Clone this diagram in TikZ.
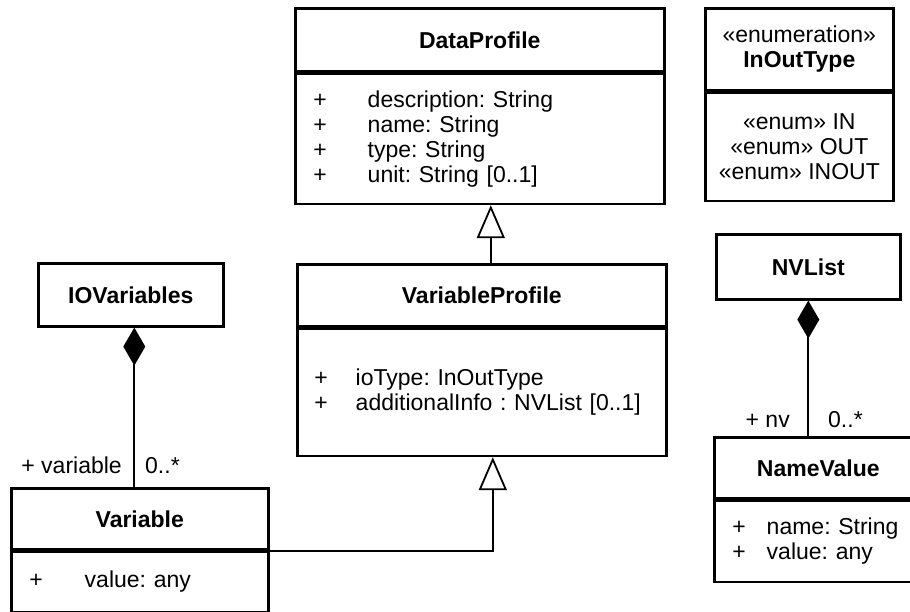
\documentclass[tikz,border=0pt]{standalone}
\usepackage{fontspec}
\setmainfont{Liberation Sans}
\usetikzlibrary{arrows.meta}
\newcommand{\umlfont}{\fontsize{23}{25}\selectfont\frenchspacing}

\begin{document}
\begin{tikzpicture}[x=1pt, y=-1pt,
    every node/.append style={font=\umlfont},
    classhead/.style={draw, line width=2.6pt, anchor=north west, inner sep=0pt, align=center, font=\umlfont\bfseries},
    classbody/.style={draw, line width=2.6pt, anchor=north west, align=left, inner ysep=0pt},
    gen/.style={line width=1.8pt, -{Triangle[open, length=33pt, width=28pt]}},
    comp/.style={line width=1.8pt, {Diamond[length=38pt, width=22pt]}-},
    role/.style={inner sep=0pt, anchor=base}]
  \useasboundingbox (0,0) rectangle (910,612);

  % DataProfile
  \node[classhead, minimum width=369pt, minimum height=63pt] (dph) at (294,7) {DataProfile};
  \node[classbody, minimum width=369pt, minimum height=130pt, inner xsep=18pt, text width=333pt] (dpb) at (dph.south west)
    {+\hspace{41pt}description: String\\ +\hspace{41pt}name: String\\ +\hspace{41pt}type: String\\ +\hspace{41pt}unit: String [0..1]};

  % Enumeration
  \node[classhead, minimum width=188pt, minimum height=82pt, font=\umlfont] (ioth) at (704,7) {«enumeration»\\ \textbf{InOutType}};
  \node[classhead, minimum width=188pt, minimum height=108pt, font=\umlfont] (iotb) at (ioth.south west) {«enum» IN\\ «enum» OUT\\ «enum» INOUT};

  % VariableProfile
  \node[classhead, minimum width=369pt, minimum height=62pt] (vph) at (296,263) {VariableProfile};
  \node[classbody, minimum width=369pt, minimum height=127pt, inner xsep=17pt, text width=335pt] (vpb) at (vph.south west)
    {+\hspace{28pt}ioType: InOutType\\ +\hspace{28pt}additionalInfo : NVList [0..1]};

  % IOVariables / Variable
  \node[classhead, minimum width=185pt, minimum height=63pt] (iov) at (37,262) {IOVariables};
  \node[classhead, minimum width=257pt, minimum height=61pt] (varh) at (10,487) {Variable};
  \node[classbody, minimum width=257pt, minimum height=60pt, inner xsep=18pt, text width=221pt] (varb) at (varh.south west)
    {+\hspace{42pt}value: any};

  % NVList / NameValue
  \node[classhead, minimum width=184pt, minimum height=65pt] (nvl) at (715,233) {NVList};
  \node[classhead, minimum width=208pt, minimum height=61pt] (nvh) at (713,436) {NameValue};
  \node[classbody, minimum width=208pt, minimum height=81pt, inner xsep=18pt, text width=172pt] (nvb) at (nvh.south west)
    {+\hspace{21pt}name: String\\ +\hspace{21pt}value: any};

  % Generalisierungen
  \draw[gen] ([xshift=9pt]vph.north) -- ([xshift=9pt]vph.north |- dpb.south);
  \draw[gen] (varh.south east) -| ([xshift=11pt]vpb.south);

  % Kompositionen
  \draw[comp] ([xshift=3.5pt]iov.south) -- ([xshift=3.5pt]iov.south |- varh.north);
  \draw[comp] (nvl.south) -- (nvl.south |- nvh.north);

  % Rollen
  \node[role, anchor=base east] (rvar) at (122,473) {+ variable};
  \node[role, anchor=base west] (mvar) at (145,473) {0..*};
  \node[role, anchor=base east] (rnv) at (790,427) {+ nv};
  \node[role, anchor=base west] (mnv) at (828,427) {0..*};
\end{tikzpicture}
\end{document}
